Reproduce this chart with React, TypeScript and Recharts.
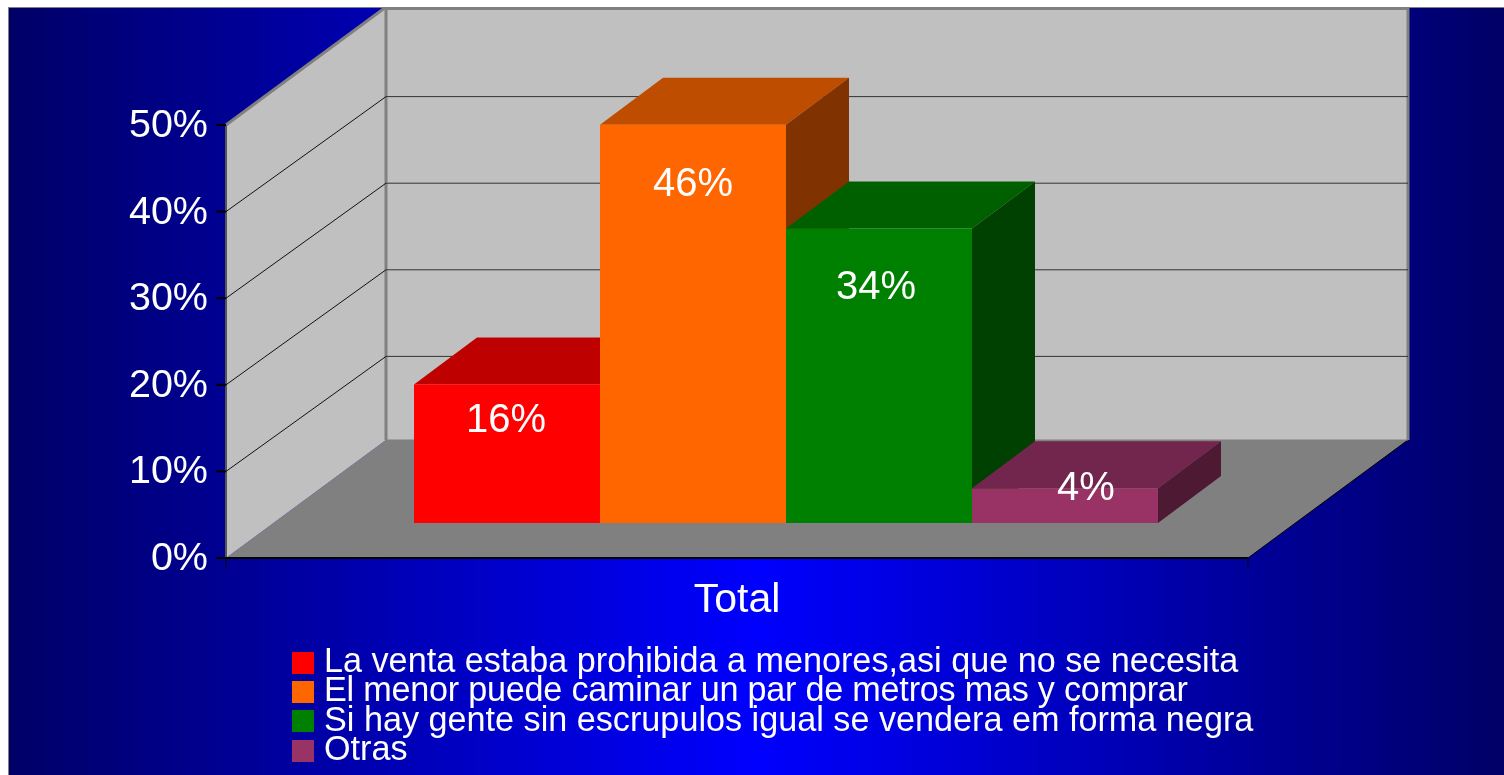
import React from 'react';
import { BarChart, Bar, XAxis, YAxis, Legend, LabelList, ReferenceArea, ReferenceLine } from 'recharts';

const categories = ['Total'];
const seriesNames = [
  'La venta estaba prohibida a menores,asi que no se necesita',
  'El menor puede caminar un par de metros mas y comprar',
  'Si hay gente sin escrupulos igual se vendera em forma negra',
  'Otras',
];
const seriesValues = [0.16, 0.46, 0.34, 0.04];
const yTicks = [0, 0.1, 0.2, 0.3, 0.4, 0.5];
const gridTicks = [0.1, 0.2, 0.3, 0.4];

const frontColors = ['#ff0000', '#ff6600', '#008000', '#993366'];
const topColors = ['#bf0000', '#bf4d00', '#006000', '#73264d'];
const sideColors = ['#800000', '#803300', '#004000', '#4d1933'];
// label nudge from the bar's front top edge
const labelNudges = [
  { dx: -1, dy: 34 },
  { dx: 0, dy: 57 },
  { dx: -3, dy: 56 },
  { dx: 21, dy: -2 },
];
const legendSpacing = [0, -0.23, 0, 0];

const WIDTH = 1496;
const HEIGHT = 767;
const WALL_DX = 160;
const WALL_DY = 118;
const GRID_DY = 115;
const BAR_DX = 63;
const BAR_DY = 47;
const BAR_SHIFT_X = 49;
const BAR_SHIFT_Y = 35;
const FONT = '"Liberation Sans", Arial, sans-serif';

const tableRow: Record<string, string | number> = { name: categories[0] };
seriesNames.forEach((_, i) => {
  tableRow[`s${i}`] = seriesValues[i];
});
const data = [tableRow];

function Walls({ x, y, width, height }: any) {
  const bottom = y + height;
  const right = x + width;
  return (
    <g>
      {/* floor */}
      <polygon
        points={`${x},${bottom} ${right},${bottom} ${right + WALL_DX},${bottom - WALL_DY} ${x + WALL_DX},${bottom - WALL_DY}`}
        fill="#808080"
      />
      <line x1={right} y1={bottom} x2={right + WALL_DX} y2={bottom - WALL_DY} stroke="#000" strokeWidth={1} />
      {/* left wall */}
      <polygon
        points={`${x},${bottom} ${x},${y} ${x + WALL_DX},${y - WALL_DY} ${x + WALL_DX},${bottom - WALL_DY}`}
        fill="#c0c0c0"
      />
      <line x1={x} y1={y} x2={x + WALL_DX} y2={y - WALL_DY} stroke="#808080" strokeWidth={3} />
      <line x1={x} y1={y} x2={x} y2={bottom} stroke="#555" strokeWidth={2} />
      {/* back wall */}
      <rect x={x + WALL_DX} y={y - WALL_DY} width={width} height={height} fill="#c0c0c0" />
      <line x1={x + WALL_DX} y1={1} x2={right + WALL_DX} y2={1} stroke="#808080" strokeWidth={2} />
      <line x1={x + WALL_DX} y1={y - WALL_DY} x2={x + WALL_DX} y2={bottom - WALL_DY} stroke="#808080" strokeWidth={3} />
      <line x1={right + WALL_DX} y1={y - WALL_DY} x2={right + WALL_DX} y2={bottom - WALL_DY} stroke="#808080" strokeWidth={3} />
      <line x1={x + WALL_DX} y1={bottom - WALL_DY} x2={right + WALL_DX} y2={bottom - WALL_DY} stroke="#808080" strokeWidth={1} />
      {/* category end ticks */}
      <line x1={x} y1={bottom} x2={x} y2={bottom + 10} stroke="#000" />
      <line x1={right} y1={bottom} x2={right} y2={bottom + 10} stroke="#000" />
    </g>
  );
}

function GridLine({ x1, y1, x2 }: any) {
  return (
    <g>
      <line x1={x1} y1={y1} x2={x1 + WALL_DX} y2={y1 - GRID_DY} stroke="#111" strokeWidth={1} />
      <line x1={x1 + WALL_DX} y1={y1 - GRID_DY} x2={x2 + WALL_DX} y2={y1 - GRID_DY} stroke="#333" strokeWidth={1} />
    </g>
  );
}

const makeBox = (i: number) => (props: any) => {
  const x = props.x + BAR_SHIFT_X;
  const y = props.y - BAR_SHIFT_Y;
  const { width: w, height: h } = props;
  return (
    <g>
      <polygon
        points={`${x},${y} ${x + w},${y} ${x + w + BAR_DX},${y - BAR_DY} ${x + BAR_DX},${y - BAR_DY}`}
        fill={topColors[i]}
      />
      <polygon
        points={`${x + w},${y} ${x + w + BAR_DX},${y - BAR_DY} ${x + w + BAR_DX},${y + h - BAR_DY} ${x + w},${y + h}`}
        fill={sideColors[i]}
      />
      <rect x={x} y={y} width={w} height={h} fill={frontColors[i]} />
    </g>
  );
};

const makeLabel = (i: number) => (props: any) => (
  <text
    x={props.x + BAR_SHIFT_X + props.width / 2 + labelNudges[i].dx}
    y={props.y - BAR_SHIFT_Y + labelNudges[i].dy}
    fill="#fff"
    fontSize={40}
    fontFamily={FONT}
    textAnchor="middle"
    dominantBaseline="central"
  >
    {Math.round(props.value * 100)}%
  </text>
);

function LegendBox({ payload }: any) {
  return (
    <div style={{ fontFamily: FONT, fontSize: 34.2, color: '#fff' }}>
      {(payload || []).map((entry: any, i: number) => (
        <div key={entry.value} style={{ display: 'flex', alignItems: 'center', height: 29.3, whiteSpace: 'nowrap' }}>
          <span style={{ width: 22, height: 22, background: entry.color, marginRight: 10, flex: 'none', marginTop: 4 }} />
          <span style={{ letterSpacing: legendSpacing[i] }}>{entry.value}</span>
        </div>
      ))}
    </div>
  );
}

export default function App() {
  return (
    <div
      style={{
        position: 'fixed',
        left: 8,
        top: 8,
        width: WIDTH,
        height: HEIGHT,
        background: 'linear-gradient(to right, #000066 0%, #0000ff 50%, #000066 100%)',
        boxShadow: 'inset 1px 0 0 #808080, 0 -1px 0 #808080',
      }}
    >
      <BarChart
        width={WIDTH}
        height={HEIGHT}
        data={data}
        margin={{ top: 117, right: 256, bottom: 157, left: 0 }}
        barCategoryGap={139}
        barGap={0}
        barSize={186}
      >
        <XAxis
          dataKey="name"
          height={60}
          axisLine={{ stroke: '#000', strokeWidth: 2 }}
          tickLine={false}
          tickMargin={19}
          tick={{ fill: '#fff', fontSize: 41, fontFamily: FONT }}
        />
        <YAxis
          width={218}
          domain={[0, 0.5]}
          ticks={yTicks}
          interval={0}
          axisLine={false}
          tickLine={{ stroke: '#000', strokeWidth: 2 }}
          tickSize={10}
          tickMargin={8}
          tickFormatter={(v: number) => `${Math.round(v * 100)}%`}
          tick={{ fill: '#fff', fontSize: 39.5, fontFamily: FONT, dy: -2 }}
        />
        <ReferenceArea y1={0} y2={0.5} shape={Walls} />
        {gridTicks.map((t) => (
          <ReferenceLine key={t} y={t} shape={GridLine} zIndex={150} />
        ))}
        <Legend
          layout="vertical"
          align="center"
          verticalAlign="middle"
          content={LegendBox}
          itemSorter={null}
          wrapperStyle={{ left: 284, top: 638, width: 'auto' }}
        />
        {seriesNames.map((name, i) => (
          <Bar key={name} dataKey={`s${i}`} name={name} fill={frontColors[i]} shape={makeBox(i)} isAnimationActive={false}>
            <LabelList dataKey={`s${i}`} content={makeLabel(i)} />
          </Bar>
        ))}
      </BarChart>
    </div>
  );
}
